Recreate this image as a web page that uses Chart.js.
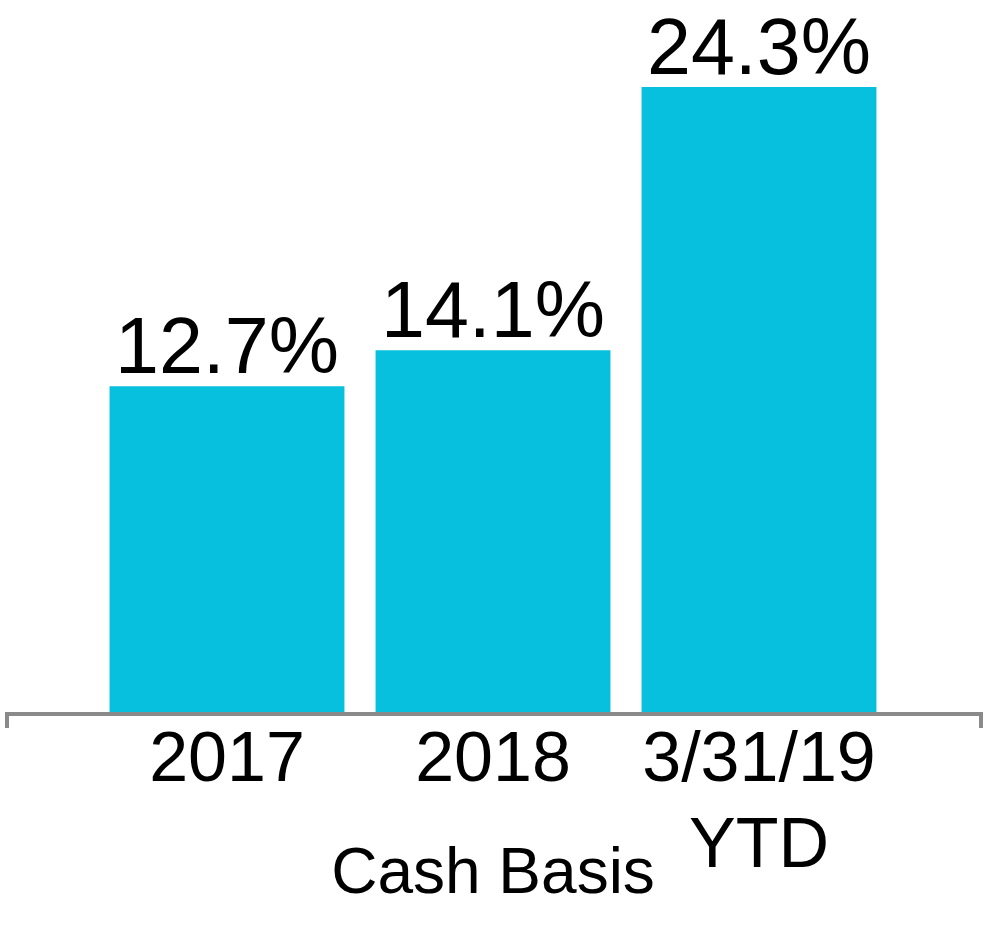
<!DOCTYPE html>
<html>
<head>
<meta charset="utf-8">
<script src="https://cdn.jsdelivr.net/npm/chart.js@4/dist/chart.umd.min.js"></script>
<style>
  html, body { margin: 0; padding: 0; background: #fff; }
</style>
</head>
<body>
<canvas id="myChart" width="1000" height="941"></canvas>
<script>
var categories = [['2017'], ['2018'], ['3/31/19', 'YTD']];
var values = [12.7, 14.1, 24.3];
var axisTitle = 'Cash Basis';

var FONT = '"Liberation Sans", Arial, sans-serif';

// value labels above bars + long axis line with end ticks
var barLabels = {
  id: 'barLabels',
  afterDatasetsDraw: function (chart) {
    var ctx = chart.ctx;
    var meta = chart.getDatasetMeta(0);
    ctx.save();
    ctx.font = '79px ' + FONT;
    ctx.fillStyle = '#000';
    ctx.textAlign = 'center';
    ctx.textBaseline = 'alphabetic';
    meta.data.forEach(function (bar, i) {
      ctx.fillText(values[i].toFixed(1) + '%', bar.x, bar.y - 13);
    });
    ctx.restore();
  }
};

var axisLine = {
  id: 'axisLine',
  afterDatasetsDraw: function (chart) {
    var ctx = chart.ctx;
    var a = chart.chartArea;
    var y = chart.scales.y.getPixelForValue(0);
    var left = a.left - 87, right = a.right + 89;
    ctx.save();
    ctx.strokeStyle = '#8a8a8a';
    ctx.lineWidth = 4;
    ctx.beginPath();
    ctx.moveTo(left, y + 14);
    ctx.lineTo(left, y);
    ctx.lineTo(right, y);
    ctx.lineTo(right, y + 14);
    ctx.stroke();
    ctx.restore();
  }
};

new Chart(document.getElementById('myChart'), {
  type: 'bar',
  data: {
    labels: categories,
    datasets: [{
      data: values,
      backgroundColor: '#07c0dd',
      borderWidth: 0,
      categoryPercentage: 1,
      barPercentage: 0.883
    }]
  },
  options: {
    responsive: false,
    animation: false,
    layout: { padding: { left: 94, right: 108, top: 17.4, bottom: 27.6 } },
    plugins: {
      legend: { display: false },
      tooltip: { enabled: false }
    },
    scales: {
      y: {
        display: false,
        min: 0,
        max: 27
      },
      x: {
        grid: { display: false, drawTicks: false },
        border: { display: false },
        ticks: {
          padding: 4,
          color: '#000',
          font: { family: FONT, size: 70, lineHeight: 1.24 }
        },
        title: {
          display: true,
          text: axisTitle,
          color: '#000',
          padding: { top: -59, bottom: 0 },
          font: { family: FONT, size: 64, lineHeight: 1.2 }
        }
      }
    }
  },
  plugins: [barLabels, axisLine]
});
</script>
</body>
</html>
